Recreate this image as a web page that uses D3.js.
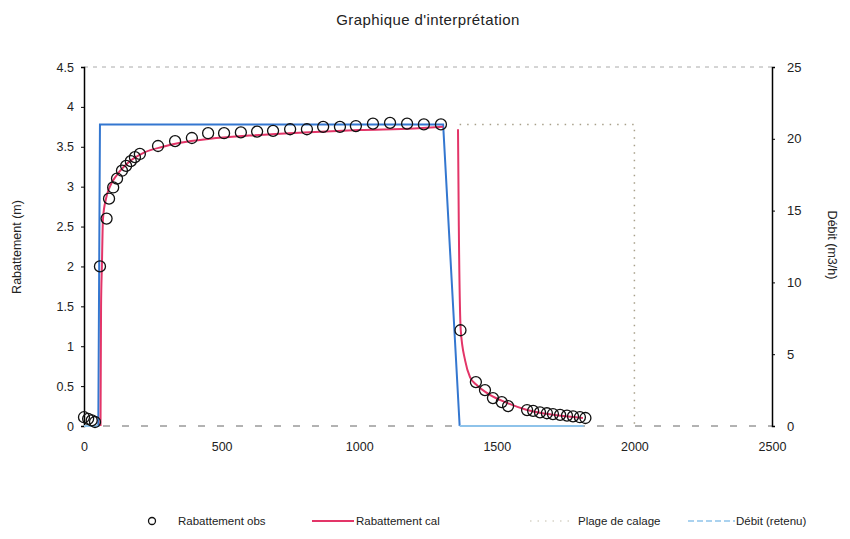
<!DOCTYPE html>
<html>
<head>
<meta charset="utf-8">
<script src="https://cdn.jsdelivr.net/npm/d3@7"></script>
<style>
  body { margin: 0; background: #fff; }
  text { font-family: "Liberation Sans", Arial, sans-serif; fill: #222; }
</style>
</head>
<body>
<div id="chart"></div>
<script>
// observed drawdown (time s, drawdown m)
var obsT = [0, 15, 28, 40, 58, 82, 91, 106, 120, 138, 153, 170, 185, 203, 269, 331, 392, 451, 509, 570, 629, 687, 749, 810, 869, 930, 988, 1050, 1112, 1174, 1235, 1297,
  1368, 1424, 1457, 1486, 1518, 1541, 1610, 1632, 1657, 1682, 1704, 1730, 1755, 1777, 1802, 1822];
var obsS = [0.11, 0.09, 0.07, 0.05, 2.0, 2.6, 2.85, 2.99, 3.1, 3.2, 3.26, 3.32, 3.37, 3.41, 3.51, 3.57, 3.61, 3.67, 3.67, 3.68, 3.69, 3.7, 3.72, 3.72, 3.75, 3.75, 3.76, 3.79, 3.8, 3.79, 3.78, 3.78,
  1.2, 0.55, 0.45, 0.35, 0.3, 0.25, 0.2, 0.19, 0.17, 0.16, 0.15, 0.14, 0.13, 0.12, 0.11, 0.1];

// calculated drawdown, pumping then recovery
var calPumpT = [60, 62, 65, 69, 80, 94, 120, 160, 220, 287, 350, 458, 600, 800, 1000, 1200, 1305];
var calPumpS = [0, 1.5, 2.0, 2.6, 2.85, 3.0, 3.15, 3.3, 3.43, 3.5, 3.55, 3.6, 3.64, 3.68, 3.71, 3.73, 3.75];
var calRecT = [1359, 1362, 1369, 1385, 1403, 1428, 1475, 1537, 1610, 1704, 1813];
var calRecS = [3.72, 2.5, 1.2, 0.82, 0.61, 0.51, 0.39, 0.29, 0.2, 0.14, 0.1];

// pumping rate (m3/h)
var debitT = [0, 52, 58, 1305, 1365, 1815];
var debitQ = [0, 0, 21, 21, 0, 0];

// calibration window
var plageT = [1365, 2000, 2000];
var plageS = [3.78, 3.78, 0];

var xTicks = [0, 500, 1000, 1500, 2000, 2500];
var yTicks = [0, 0.5, 1, 1.5, 2, 2.5, 3, 3.5, 4, 4.5];
var y2Ticks = [0, 5, 10, 15, 20, 25];

var width = 850, height = 539;
var margins = { left: 84, right: 78, top: 67, bottom: 113 };

var svg = d3.select('#chart').append('svg')
  .attr('width', width)
  .attr('height', height);

var x = d3.scaleLinear().domain([0, 2500]).range([margins.left, width - margins.right]);
var y = d3.scaleLinear().domain([0, 4.5]).range([height - margins.bottom, margins.top]);
var y2 = d3.scaleLinear().domain([0, 25]).range([height - margins.bottom, margins.top]);

// title
svg.append('text')
  .attr('x', 428).attr('y', 25)
  .attr('text-anchor', 'middle')
  .style('font-size', '15px')
  .style('letter-spacing', '0.4px')
  .text("Graphique d'interprétation");

// frame top / bottom (dashed, as scanned)
svg.append('line')
  .attr('x1', x(0)).attr('x2', x(2500))
  .attr('y1', y(4.5)).attr('y2', y(4.5))
  .attr('stroke', '#aaa').attr('stroke-dasharray', '4,5');
svg.append('line')
  .attr('x1', x(0)).attr('x2', x(2500))
  .attr('y1', y(0)).attr('y2', y(0))
  .attr('stroke', '#666').attr('stroke-dasharray', '7,12');

// axes
var yAxis = svg.append('g')
  .attr('transform', 'translate(' + x(0) + ',0)')
  .call(d3.axisLeft(y).tickValues(yTicks).tickSize(3).tickFormat(d3.format('')));
var y2Axis = svg.append('g')
  .attr('transform', 'translate(' + x(2500) + ',0)')
  .call(d3.axisRight(y2).tickValues(y2Ticks).tickSize(3));
var xAxis = svg.append('g')
  .attr('transform', 'translate(0,' + (y(0) + 2) + ')')
  .call(d3.axisBottom(x).tickValues(xTicks).tickSize(0).tickFormat(d3.format('d')));

yAxis.selectAll('text').style('font-size', '12.5px').attr('x', -10);
y2Axis.selectAll('text').style('font-size', '13px').attr('x', 15);
xAxis.selectAll('text').style('font-size', '12.5px').attr('dy', '1.6em');
xAxis.select('.domain').remove();
yAxis.select('.domain').attr('stroke-width', 1.5);
y2Axis.select('.domain').attr('stroke-width', 1.5);

// axis labels
svg.append('text')
  .attr('transform', 'translate(21,' + 247 + ') rotate(-90)')
  .attr('text-anchor', 'middle')
  .style('font-size', '12.5px')
  .text('Rabattement (m)');
svg.append('text')
  .attr('transform', 'translate(828,' + 245 + ') rotate(90)')
  .attr('text-anchor', 'middle')
  .style('font-size', '12.5px')
  .text('Débit (m3/h)');

var line = d3.line()
  .x(function(d) { return x(d[0]); })
  .y(function(d) { return y(d[1]); });
var smooth = d3.line()
  .x(function(d) { return x(d[0]); })
  .y(function(d) { return y(d[1]); })
  .curve(d3.curveMonotoneX);
var lineQ = d3.line()
  .x(function(d) { return x(d[0]); })
  .y(function(d) { return y2(d[1]); });

// plage de calage
svg.append('path')
  .datum(d3.zip(plageT, plageS))
  .attr('d', line)
  .attr('fill', 'none')
  .attr('stroke', '#a8a08a')
  .attr('stroke-width', 1.5)
  .attr('stroke-dasharray', '1.5,6');

// debit
var debitData = d3.zip(debitT, debitQ);
svg.append('path')
  .datum(debitData.slice(0, 5))
  .attr('d', lineQ)
  .attr('fill', 'none')
  .attr('stroke', '#3477d0')
  .attr('stroke-width', 2);
svg.append('path')
  .datum(debitData.slice(4))
  .attr('d', lineQ)
  .attr('fill', 'none')
  .attr('stroke', '#8ec3ea')
  .attr('stroke-width', 2);
svg.append('path')
  .datum(debitData.slice(0, 2))
  .attr('d', lineQ)
  .attr('fill', 'none')
  .attr('stroke', '#8ec3ea')
  .attr('stroke-width', 2);

// calculated drawdown
[d3.zip(calPumpT, calPumpS), d3.zip(calRecT, calRecS)].forEach(function(seg) {
  svg.append('path')
    .datum(seg)
    .attr('d', smooth)
    .attr('fill', 'none')
    .attr('stroke', '#e33568')
    .attr('stroke-width', 2);
});

// observed drawdown
svg.append('g').selectAll('circle')
  .data(d3.zip(obsT, obsS))
  .enter().append('circle')
  .attr('cx', function(d) { return x(d[0]); })
  .attr('cy', function(d) { return y(d[1]); })
  .attr('r', 5.5)
  .attr('fill', 'none')
  .attr('stroke', '#111')
  .attr('stroke-width', 1.3);

// legend
var lg = svg.append('g').attr('transform', 'translate(0,521)');
var lgFont = '11.5px';
lg.append('circle').attr('cx', 152).attr('cy', 0).attr('r', 3.5)
  .attr('fill', 'none').attr('stroke', '#111').attr('stroke-width', 1.3);
lg.append('text').attr('x', 178).attr('y', 4).style('font-size', lgFont).text('Rabattement obs');
lg.append('line').attr('x1', 312).attr('x2', 354).attr('y1', 0).attr('y2', 0)
  .attr('stroke', '#e33568').attr('stroke-width', 2);
lg.append('text').attr('x', 356).attr('y', 4).style('font-size', lgFont).text('Rabattement cal');
lg.append('line').attr('x1', 530).attr('x2', 575).attr('y1', 0).attr('y2', 0)
  .attr('stroke', '#d8d4c8').attr('stroke-width', 1.5).attr('stroke-dasharray', '1.5,6');
lg.append('text').attr('x', 578).attr('y', 4).style('font-size', lgFont).text('Plage de calage');
lg.append('line').attr('x1', 688).attr('x2', 735).attr('y1', 0).attr('y2', 0)
  .attr('stroke', '#8ec3ea').attr('stroke-width', 1.5).attr('stroke-dasharray', '6,3');
lg.append('text').attr('x', 736).attr('y', 4).style('font-size', lgFont).text('Débit (retenu)');
</script>
</body>
</html>
